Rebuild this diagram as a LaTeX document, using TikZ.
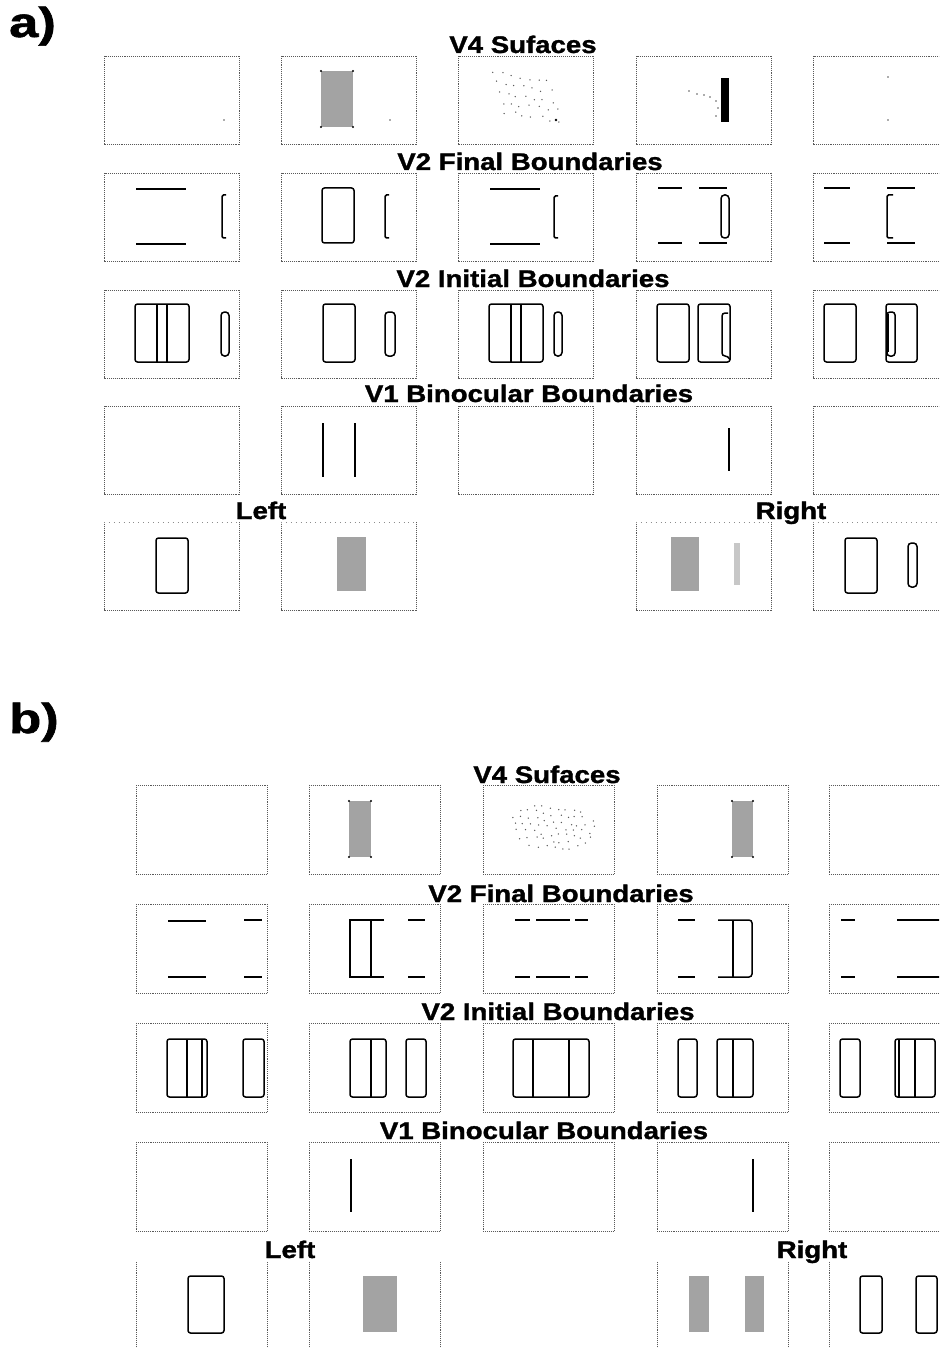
\documentclass[tikz,border=0pt]{standalone}
\usepackage{fontspec}
\setmainfont{Liberation Sans}
\newfontfamily\heavy[FakeBold=1.3]{Liberation Sans Bold}
\usepackage{graphicx}
\tikzset{
  boxst/.style={draw=black!65, densely dotted, line width=0.9pt},
  boxlt/.style={draw=black!45, loosely dotted, line width=0.9pt},
  ln/.style={draw=black, line width=1.5pt},
  rr/.style={draw=black, line width=1.5pt, rounded corners=2.5pt},
  stip/.style={fill=black!36, draw=none},
  stipl/.style={fill=black!22, draw=none},
  lab/.style={anchor=base, inner sep=0pt, font=\fontsize{24}{28}\heavy},
  big/.style={anchor=base west, inner sep=0pt, font=\fontsize{42}{46}\heavy},
  dotc/.style={fill=black!65},
}
\newcommand\wide[1]{\scalebox{1.15}[1]{#1}}
\newcommand\wider[1]{\scalebox{1.25}[1]{#1}}
\begin{document}
\begin{tikzpicture}[x=1pt,y=-1pt]
\useasboundingbox (0,0) rectangle (939,1348);
\clip (0,0) rectangle (939,1348);
\pgfmathsetseed{7}

% ================= a) =================
\node[big] (pa) at (9,37) {\wider{a)}};
\foreach \x in {104,281,458,636,813}
  \foreach \y in {56,173,290,406}
    \draw[boxst] (\x,\y) rectangle ++(135,88);
\foreach \x in {104,281,636,813}{
  \draw[boxst] (\x,522) -- (\x,610) -- (\x+135,610) -- (\x+135,522);
  \draw[boxlt] (\x,522) -- (\x+135,522);
}
\node[lab] (aV4) at (523,53) {\wide{V4 Sufaces}};
\node[lab] (aV2F) at (530,170) {\wide{V2 Final Boundaries}};
\node[lab] (aV2I) at (533,287) {\wide{V2 Initial Boundaries}};
\node[lab] (aV1) at (529,402) {\wide{V1 Binocular Boundaries}};
\node[lab] (aL) at (261,519) {\wide{Left}};
\node[lab] (aR) at (791,519) {\wide{Right}};

% row 1 (V4)
\begin{scope}[shift={(104,56)}]
  \fill[dotc] (120,64) circle (0.8);
\end{scope}
\begin{scope}[shift={(281,56)}]
  \fill[stip] (40,15) rectangle (72,71);
  \foreach \p in {(40,15),(72,15),(40,71),(72,71)} \fill \p circle (1.2);
  \fill[dotc] (109,64) circle (0.8);
\end{scope}
\begin{scope}[shift={(458,56)}]
  \foreach \i in {0,...,6}{\foreach \j in {0,...,4}{
    \pgfmathsetmacro\px{35+9*\i+3*\j+2.5*rand}
    \pgfmathsetmacro\py{16+10*\j+1.5*\i+2*rand}
    \fill[dotc] (\px,\py) circle (0.75);
  }}
  \fill (98,64) circle (1.4);
\end{scope}
\begin{scope}[shift={(636,56)}]
  \foreach \p in {(53,35),(61,38),(68,39),(74,41),(80,45),(82,52),(80,60)} \fill[dotc] \p circle (0.8);
  \fill (85,22) rectangle (93,66);
\end{scope}
\begin{scope}[shift={(813,56)}]
  \fill[dotc] (75,21) circle (0.9);
  \fill[dotc] (75,64) circle (0.9);
\end{scope}

% row 2 (V2 final)
\begin{scope}[shift={(104,173)}]
  \draw[ln] (32,16) -- (82,16);
  \draw[ln] (32,71) -- (82,71);
  \draw[ln, rounded corners=1.5pt] (122,22) -- (118,22) -- (118,65) -- (122,65);
\end{scope}
\begin{scope}[shift={(281,173)}]
  \draw[rr] (41,15) rectangle (73,70);
  \draw[ln, rounded corners=1.5pt] (108,22) -- (104,22) -- (104,65) -- (108,65);
\end{scope}
\begin{scope}[shift={(458,173)}]
  \draw[ln] (32,16) -- (82,16);
  \draw[ln] (32,71) -- (82,71);
  \draw[ln, rounded corners=1.5pt] (100,23) -- (96,23) -- (96,65) -- (100,65);
\end{scope}
\begin{scope}[shift={(636,173)}]
  \draw[ln] (22,15) -- (46,15);
  \draw[ln] (63,15) -- (91,15);
  \draw[ln] (22,70) -- (46,70);
  \draw[ln] (63,70) -- (91,70);
  \draw[rr, rounded corners=3.5pt] (85,22) rectangle (93,65);
\end{scope}
\begin{scope}[shift={(813,173)}]
  \draw[ln] (11,15) -- (37,15);
  \draw[ln] (74,15) -- (102,15);
  \draw[ln] (11,70) -- (37,70);
  \draw[ln] (74,70) -- (102,70);
  \draw[ln, rounded corners=1.5pt] (80,22) -- (74,22) -- (74,65) -- (80,65);
\end{scope}

% row 3 (V2 initial)
\begin{scope}[shift={(104,290)}]
  \draw[rr] (31,14) rectangle (85,72);
  \draw[ln] (53,14) -- (53,72);
  \draw[ln] (63,14) -- (63,72);
  \draw[rr, rounded corners=3.5pt] (117,22) rectangle (125,66);
\end{scope}
\begin{scope}[shift={(281,290)}]
  \draw[rr] (42,14) rectangle (74,72);
  \draw[rr, rounded corners=3.5pt] (104,22) rectangle (114,66);
\end{scope}
\begin{scope}[shift={(458,290)}]
  \draw[rr] (31,14) rectangle (85,72);
  \draw[ln] (53,14) -- (53,72);
  \draw[ln] (63,14) -- (63,72);
  \draw[rr, rounded corners=3.5pt] (96,22) rectangle (104,66);
\end{scope}
\begin{scope}[shift={(636,290)}]
  \draw[rr] (21,14) rectangle (53,72);
  \draw[rr] (62,14) rectangle (94,72);
  \draw[ln, rounded corners=3pt] (92,23) -- (86,23) -- (86,66) -- (92,66) -- (94,70);
\end{scope}
\begin{scope}[shift={(813,290)}]
  \draw[rr] (11,14) rectangle (43,72);
  \draw[rr] (73,14) rectangle (104,72);
  \draw[rr, rounded corners=3pt] (74,22) rectangle (82,66);
  \draw[line width=2.5pt] (74.5,24) -- (74.5,62);
\end{scope}

% row 4 (V1)
\begin{scope}[shift={(281,406)}]
  \draw[ln] (42,17) -- (42,71);
  \draw[ln] (74,17) -- (74,71);
\end{scope}
\begin{scope}[shift={(636,406)}]
  \draw[ln] (93,22) -- (93,65);
\end{scope}

% row 5 (inputs)
\begin{scope}[shift={(104,522)}]
  \draw[rr] (52,16) rectangle (84,71);
\end{scope}
\begin{scope}[shift={(281,522)}]
  \fill[stip] (56,15) rectangle (85,69);
\end{scope}
\begin{scope}[shift={(636,522)}]
  \fill[stip] (35,15) rectangle (63,69);
  \fill[stipl] (98,21) rectangle (104,63);
\end{scope}
\begin{scope}[shift={(813,522)}]
  \draw[rr] (32,16) rectangle (64,71);
  \draw[rr, rounded corners=3.5pt] (95,21) rectangle (104,65);
\end{scope}

% ================= b) =================
\node[big] (pb) at (9,733) {\wider{b)}};
\foreach \x in {136,309,483,657,829}
  \foreach \y in {785,904,1023,1142}
    \draw[boxst] (\x,\y) rectangle ++(131,89);
\foreach \x in {136,309,657,829}{
  \draw[boxst] (\x,1262) -- (\x,1348);
  \draw[boxst] (\x+131,1262) -- (\x+131,1348);
}
\node[lab] (bV4) at (547,783) {\wide{V4 Sufaces}};
\node[lab] (bV2F) at (561,902) {\wide{V2 Final Boundaries}};
\node[lab] (bV2I) at (558,1020) {\wide{V2 Initial Boundaries}};
\node[lab] (bV1) at (544,1139) {\wide{V1 Binocular Boundaries}};
\node[lab] (bL) at (290,1258) {\wide{Left}};
\node[lab] (bR) at (812,1258) {\wide{Right}};

% row 1 (V4)
\begin{scope}[shift={(309,785)}]
  \fill[stip] (40,16) rectangle (62,72);
  \foreach \p in {(40,16),(62,16),(40,72),(62,72)} \fill \p circle (1.2);
\end{scope}
\begin{scope}[shift={(483,785)}]
  \foreach \i in {0,...,10}{\foreach \j in {0,...,7}{
    \pgfmathsetmacro\px{27+8*\i+2*\j+2*rand}
    \pgfmathsetmacro\py{17+7*\j+1*\i+2*rand}
    \pgfmathtruncatemacro\ok{((\px-70)/44)^2+((\py-42)/26)^2<1}
    \ifnum\ok=1 \fill[dotc] (\px,\py) circle (0.75); \fi
  }}
\end{scope}
\begin{scope}[shift={(657,785)}]
  \fill[stip] (75,16) rectangle (96,72);
  \foreach \p in {(75,16),(96,16),(75,72),(96,72)} \fill \p circle (1.2);
\end{scope}

% row 2 (V2 final)
\begin{scope}[shift={(136,904)}]
  \draw[ln] (32,17) -- (70,17);
  \draw[ln] (32,73) -- (70,73);
  \draw[ln] (108,16) -- (126,16);
  \draw[ln] (108,73) -- (126,73);
\end{scope}
\begin{scope}[shift={(309,904)}]
  \draw[ln] (75,16) -- (41,16) -- (41,73) -- (75,73);
  \draw[ln] (62,16) -- (62,73);
  \draw[ln] (99,16) -- (116,16);
  \draw[ln] (99,73) -- (116,73);
\end{scope}
\begin{scope}[shift={(483,904)}]
  \foreach \yy in {16,73}{
    \draw[ln] (32,\yy) -- (47,\yy);
    \draw[ln] (53,\yy) -- (87,\yy);
    \draw[ln] (92,\yy) -- (105,\yy);
  }
\end{scope}
\begin{scope}[shift={(657,904)}]
  \draw[ln] (21,16) -- (38,16);
  \draw[ln] (21,73) -- (38,73);
  \draw[ln, rounded corners=3pt] (61,16) -- (95,16) -- (95,73) -- (61,73);
  \draw[ln] (76,16) -- (76,73);
\end{scope}
\begin{scope}[shift={(829,904)}]
  \draw[ln] (12,16) -- (26,16);
  \draw[ln] (12,73) -- (26,73);
  \draw[ln] (68,16) -- (115,16);
  \draw[ln] (68,73) -- (115,73);
\end{scope}

% row 3 (V2 initial)
\begin{scope}[shift={(136,1023)}]
  \draw[rr] (31,16) rectangle (71,74);
  \draw[ln] (51,16) -- (51,74);
  \draw[ln] (66,16) -- (66,74);
  \draw[rr] (107,16) rectangle (128,74);
\end{scope}
\begin{scope}[shift={(309,1023)}]
  \draw[rr] (41,16) rectangle (77,74);
  \draw[ln] (62,16) -- (62,74);
  \draw[rr] (97,16) rectangle (117,74);
\end{scope}
\begin{scope}[shift={(483,1023)}]
  \draw[rr] (30,16) rectangle (106,74);
  \draw[ln] (50,16) -- (50,74);
  \draw[ln] (86,16) -- (86,74);
\end{scope}
\begin{scope}[shift={(657,1023)}]
  \draw[rr] (21,16) rectangle (40,74);
  \draw[rr] (60,16) rectangle (96,74);
  \draw[ln] (76,16) -- (76,74);
\end{scope}
\begin{scope}[shift={(829,1023)}]
  \draw[rr] (11,16) rectangle (31,74);
  \draw[rr] (66,16) rectangle (106,74);
  \draw[ln] (70,16) -- (70,74);
  \draw[ln] (86,16) -- (86,74);
\end{scope}

% row 4 (V1)
\begin{scope}[shift={(309,1142)}]
  \draw[ln] (42,17) -- (42,70);
\end{scope}
\begin{scope}[shift={(657,1142)}]
  \draw[ln] (96,17) -- (96,70);
\end{scope}

% row 5 (inputs)
\begin{scope}[shift={(136,1262)}]
  \draw[rr] (52,14) rectangle (88,71);
\end{scope}
\begin{scope}[shift={(309,1262)}]
  \fill[stip] (54,14) rectangle (88,70);
\end{scope}
\begin{scope}[shift={(657,1262)}]
  \fill[stip] (32,14) rectangle (52,70);
  \fill[stip] (88,14) rectangle (107,70);
\end{scope}
\begin{scope}[shift={(829,1262)}]
  \draw[rr] (31,14) rectangle (53,71);
  \draw[rr] (87,14) rectangle (108,71);
\end{scope}
\end{tikzpicture}
\end{document}
